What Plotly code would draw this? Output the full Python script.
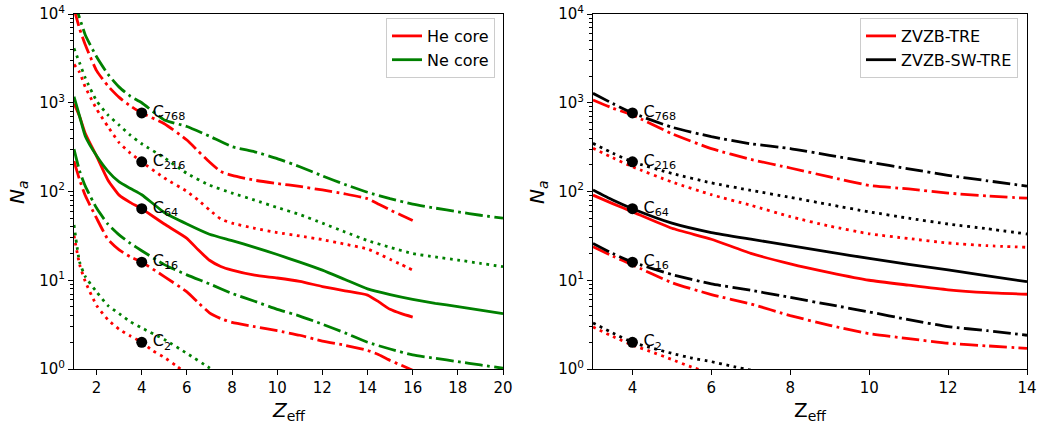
import plotly.graph_objects as go

# ---------------- data ----------------
# Left panel: He core (red) and Ne core (green)
z_he = [1, 1.25, 1.5, 2, 2.5, 3, 3.5, 4, 5, 6, 6.5, 7, 7.5, 8, 9, 10, 11, 12, 13, 14, 14.5, 15, 15.5, 16]
he_c768 = [11500, 6800, 4500, 2300, 1550, 1150, 920, 768, 580, 380, 285, 215, 168, 152, 134, 123, 114, 104, 94, 83, 72, 62, 54, 47]
he_c216 = [2700, 2200, 1500, 850, 540, 355, 270, 216, 142, 100, 80, 62, 49, 44, 38.5, 34.5, 31.5, 28.7, 25.5, 22.5, 19.8, 17.2, 15, 13]
he_c64 = [980, 700, 450, 250, 135, 91, 75, 64, 43, 29.7, 22, 16.8, 14.3, 13.0, 11.4, 10.6, 9.7, 8.5, 7.6, 6.8, 5.7, 4.7, 4.2, 3.85]
he_c16 = [220, 135, 90, 50, 29, 22, 18.3, 16, 11, 7.4, 5.6, 4.3, 3.7, 3.35, 3.0, 2.7, 2.4, 2.06, 1.85, 1.62, 1.45, 1.25, 1.1, 0.97]
z_he_c2 = [1, 1.25, 1.5, 2, 2.5, 3, 3.5, 4, 4.5, 5, 5.5, 6]
he_c2 = [32, 15, 9.7, 5.2, 3.6, 2.8, 2.35, 2.0, 1.6, 1.35, 1.1, 0.88]

z_ne = [1, 1.25, 1.5, 2, 2.5, 3, 3.5, 4, 5, 6, 7, 8, 9, 10, 11, 12, 13, 14, 15, 16, 17, 18, 19, 20]
ne_c768 = [14000, 9000, 5800, 3300, 2100, 1500, 1180, 1000, 640, 540, 420, 320, 280, 235, 190, 150, 120, 98, 83, 72, 65, 59, 54, 50]
ne_c216 = [4100, 2800, 1900, 1050, 730, 560, 430, 345, 240, 160, 118, 96, 80, 66, 55, 44, 35, 28, 23.5, 20, 18.3, 16.9, 15.5, 14.2]
ne_c64 = [1170, 700, 420, 253, 170, 128, 108, 92, 58, 43, 33, 28, 23.5, 19.5, 16, 13, 10.2, 8.0, 6.9, 6.1, 5.5, 5.05, 4.6, 4.2]
ne_c16 = [300, 170, 115, 65, 43, 32.5, 26, 21.5, 15, 11.5, 9.1, 7.1, 5.8, 4.7, 3.95, 3.2, 2.55, 2.0, 1.68, 1.44, 1.32, 1.21, 1.11, 1.02]
z_ne_c2 = [1, 1.25, 1.5, 2, 2.5, 3, 3.5, 4, 5, 6, 7, 7.5]
ne_c2 = [42, 16, 11, 7.4, 5.2, 4.2, 3.4, 2.9, 2.15, 1.5, 1.03, 0.85]

# Right panel: ZVZB-TRE (red) and ZVZB-SW-TRE (black)
z_r = [3, 3.5, 4, 5, 6, 7, 8, 9, 10, 11, 12, 13, 14]
tre_c768 = [1075, 870, 728, 447, 304, 230, 184, 146, 117, 107, 96, 89, 84]
tre_c216 = [307, 240, 190, 128, 92, 70, 52, 40.7, 33.4, 29.5, 26.3, 24.5, 23.5]
tre_c64 = [91, 73, 59, 38.5, 29, 20.1, 15.3, 12.2, 10.0, 8.8, 7.8, 7.25, 6.95]
tre_c16 = [23.9, 18.7, 14.9, 9.4, 6.9, 5.4, 4.0, 3.1, 2.5, 2.2, 1.95, 1.82, 1.71]
sw_c768 = [1277, 980, 768, 530, 415, 345, 305, 255, 215, 180, 152, 132, 115]
sw_c216 = [349, 270, 216, 160, 125, 103, 86, 71, 59, 50, 43, 38, 33.2]
sw_c64 = [104, 80, 64, 44, 34.5, 29, 24.6, 20.8, 17.6, 15.1, 13.1, 11.2, 9.63]
sw_c16 = [26, 20, 16, 11.6, 9.1, 7.7, 6.4, 5.3, 4.4, 3.6, 3.0, 2.7, 2.4]
z_tre_c2 = [3, 3.5, 4, 4.5, 5, 5.5, 6]
tre_c2 = [2.97, 2.33, 1.86, 1.55, 1.28, 1.05, 0.9]
z_sw_c2 = [3, 3.5, 4, 4.5, 5, 5.5, 6, 6.5, 7]
sw_c2 = [3.3, 2.55, 2.0, 1.72, 1.5, 1.33, 1.21, 1.08, 0.97]

# Reference points
mark_z = [4, 4, 4, 4, 4]
mark_n = [2, 16, 64, 216, 768]
mark_lbl = ["C<sub>2</sub>", "C<sub>16</sub>", "C<sub>64</sub>", "C<sub>216</sub>", "C<sub>768</sub>"]

ytick_vals = [1, 10, 100, 1000, 10000]
ytick_text = ["10<sup>0</sup>", "10<sup>1</sup>", "10<sup>2</sup>", "10<sup>3</sup>", "10<sup>4</sup>"]

# ---------------- styling ----------------
RED = "#ff0000"
GREEN = "#008000"
BLACK = "#000000"
LW = 2.8
DOT = "2.8px,4.6px"
DASHDOT = "17.8px,4.4px,2.8px,4.4px"
FONT = "DejaVu Sans"

fig = go.Figure()


def add_line(x, y, color, dash, xa, ya, name=None, legend=None):
    fig.add_trace(go.Scatter(
        x=x, y=y, mode="lines", xaxis=xa, yaxis=ya,
        line=dict(color=color, width=LW, dash=dash, shape="spline", smoothing=0.5),
        name=name if name else "", showlegend=name is not None,
        legend=legend if legend else "legend",
        hoverinfo="skip",
    ))


# left panel
add_line(z_he, he_c64, RED, "solid", "x", "y", "He core", "legend")
add_line(z_ne, ne_c64, GREEN, "solid", "x", "y", "Ne core", "legend")
add_line(z_he, he_c768, RED, DASHDOT, "x", "y")
add_line(z_ne, ne_c768, GREEN, DASHDOT, "x", "y")
add_line(z_he, he_c216, RED, DOT, "x", "y")
add_line(z_ne, ne_c216, GREEN, DOT, "x", "y")
add_line(z_he, he_c16, RED, DASHDOT, "x", "y")
add_line(z_ne, ne_c16, GREEN, DASHDOT, "x", "y")
add_line(z_he_c2, he_c2, RED, DOT, "x", "y")
add_line(z_ne_c2, ne_c2, GREEN, DOT, "x", "y")

# right panel
add_line(z_r, tre_c64, RED, "solid", "x2", "y2", "ZVZB-TRE", "legend2")
add_line(z_r, sw_c64, BLACK, "solid", "x2", "y2", "ZVZB-SW-TRE", "legend2")
add_line(z_r, tre_c768, RED, DASHDOT, "x2", "y2")
add_line(z_r, sw_c768, BLACK, DASHDOT, "x2", "y2")
add_line(z_r, tre_c216, RED, DOT, "x2", "y2")
add_line(z_r, sw_c216, BLACK, DOT, "x2", "y2")
add_line(z_r, tre_c16, RED, DASHDOT, "x2", "y2")
add_line(z_r, sw_c16, BLACK, DASHDOT, "x2", "y2")
add_line(z_tre_c2, tre_c2, RED, DOT, "x2", "y2")
add_line(z_sw_c2, sw_c2, BLACK, DOT, "x2", "y2")

for xa, ya in (("x", "y"), ("x2", "y2")):
    fig.add_trace(go.Scatter(
        x=mark_z, y=mark_n, mode="markers+text", xaxis=xa, yaxis=ya,
        marker=dict(color="black", size=11),
        text=["\u2009" + t for t in mark_lbl], textposition="middle right",
        textfont=dict(family=FONT, size=16, color="black"),
        showlegend=False, hoverinfo="skip", cliponaxis=False,
    ))

W, H = 1043, 426
L1, R1 = 74, 503
L2, R2 = 593, 1027
T, B = 14, 369

minor_vals = [m * 10 ** k for k in range(0, 4) for m in range(2, 10)]
yax = dict(
    type="log", range=[0, 4], tickmode="array", tickvals=ytick_vals, ticktext=ytick_text,
    ticks="outside", ticklen=5, tickwidth=1.1, tickcolor="black",
    showline=True, linecolor="black", linewidth=1.1, mirror=True,
    showgrid=False, zeroline=False, automargin=False,
    tickfont=dict(family=FONT, size=15, color="black"),
    minor=dict(tickmode="array", tickvals=minor_vals, ticks="outside", ticklen=3,
               tickwidth=0.8, tickcolor="black", showgrid=False),
    domain=[1 - B / H, 1 - T / H],
)
xbase = dict(
    ticks="outside", ticklen=5, tickwidth=1.1, tickcolor="black",
    showline=True, linecolor="black", linewidth=1.1, mirror=True,
    showgrid=False, zeroline=False, automargin=False,
    tickfont=dict(family=FONT, size=15, color="black"),
)

leg = dict(xanchor="right", yanchor="top", bgcolor="rgba(255,255,255,0.8)",
           bordercolor="#cccccc", borderwidth=1,
           font=dict(family=FONT, size=16, color="black"), itemwidth=30)

fig.update_layout(
    width=W, height=H,
    margin=dict(l=0, r=0, t=0, b=0),
    paper_bgcolor="white", plot_bgcolor="white",
    font=dict(family=FONT, color="black"),
    xaxis=dict(xbase, range=[1, 20], tickvals=[2, 4, 6, 8, 10, 12, 14, 16, 18, 20],
               domain=[L1 / W, R1 / W], anchor="y"),
    yaxis=dict(yax, anchor="x"),
    xaxis2=dict(xbase, range=[3, 14], tickvals=[4, 6, 8, 10, 12, 14],
                domain=[L2 / W, R2 / W], anchor="y2"),
    yaxis2=dict(yax, anchor="x2"),
    legend=dict(leg, x=495 / W, y=1 - 18 / H),
    legend2=dict(leg, x=1018 / W, y=1 - 18 / H),
    showlegend=True,
)

ann_font = dict(family=FONT, size=20, color="black")
fig.add_annotation(text="<i>N</i><sub><i>a</i></sub>", x=18 / W, y=1 - 192 / H, xref="paper", yref="paper",
                   textangle=-90, showarrow=False, font=ann_font, xanchor="center", yanchor="middle")
fig.add_annotation(text="<i>N</i><sub><i>a</i></sub>", x=538 / W, y=1 - 192 / H, xref="paper", yref="paper",
                   textangle=-90, showarrow=False, font=ann_font, xanchor="center", yanchor="middle")
fig.add_annotation(text="<i>Z</i><sub>eff</sub>", x=(L1 + R1) / 2 / W, y=1 - 411 / H, xref="paper", yref="paper",
                   showarrow=False, font=ann_font, xanchor="center", yanchor="middle")
fig.add_annotation(text="Z<sub>eff</sub>", x=(L2 + R2) / 2 / W, y=1 - 411 / H, xref="paper", yref="paper",
                   showarrow=False, font=ann_font, xanchor="center", yanchor="middle")

fig.write_html("out.html", config={"displayModeBar": False},
               post_script="document.body.style.margin='0px';document.body.style.overflow='hidden';")
